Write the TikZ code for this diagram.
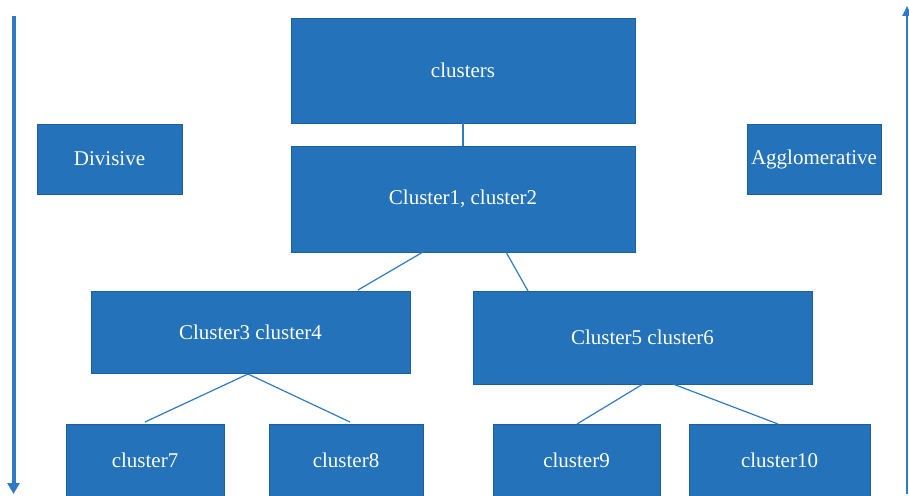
\documentclass[tikz,border=0pt]{standalone}
\usepackage{fontspec}
\setmainfont{Liberation Serif}
\usetikzlibrary{arrows.meta}
\definecolor{boxfill}{HTML}{2372BA}
\definecolor{boxedge}{HTML}{1F5E9C}
\definecolor{linec}{HTML}{2E7BC4}
\tikzset{
  cbox/.style={draw=boxedge, line width=0.8pt, fill=boxfill, text=white, font=\fontsize{21}{24}\selectfont, inner sep=0pt},
  conn/.style={draw=linec, line width=1.2pt},
}
\newcommand{\cbox}[6]{% name, x1,y1,x2,y2,text
  \node[cbox, minimum width={(#4-#2)*1pt}, minimum height={(#5-#3)*1pt}] (#1) at ({(#2+#4)/2},{(#3+#5)/2}) {#6};}
\begin{document}
\begin{tikzpicture}[x=1pt,y=-1pt]
\useasboundingbox (0,0) rectangle (909,495);
\cbox{top}{291}{18}{635}{123}{clusters}
\cbox{c12}{291}{146}{635}{252}{Cluster1, cluster2}
\cbox{div}{37}{124}{182}{194}{Divisive}
\cbox{agg}{747}{124}{881}{194}{Agglomerative}
\cbox{c34}{91}{291}{410}{373}{Cluster3 cluster4}
\cbox{c56}{473}{291}{812}{384}{Cluster5 cluster6}
\cbox{c7}{66}{424}{224}{496}{cluster7}
\cbox{c8}{269}{424}{423}{496}{cluster8}
\cbox{c9}{493}{424}{660}{496}{cluster9}
\cbox{c10}{689}{424}{870}{496}{cluster10}
\coordinate (s1) at (423,252);
\coordinate (s2) at (506,252);
\coordinate (s3) at (248,374);
\coordinate (s4) at (643,384);
\coordinate (s5) at (673,384);
\draw[conn] (top.south) -- (c12.north);
\draw[conn] (s1) -- (358,290) coordinate (e1);
\draw[conn] (s2) -- (528,291) coordinate (e2);
\draw[conn] (s3) -- (145,422) coordinate (e3);
\draw[conn] (s3) -- (350,422) coordinate (e4);
\draw[conn] (s4) -- (577,424) coordinate (e5);
\draw[conn] (s5) -- (778,424) coordinate (e6);
\coordinate (la) at (13.5,16);
\coordinate (lb) at (13.5,494);
\coordinate (ra) at (907,494);
\coordinate (rb) at (907,6);
\draw[draw=linec, line width=4pt, -{Triangle[length=11pt,width=12pt]}] (la) -- (lb);
\draw[draw=linec, line width=2pt, -{Triangle[length=10pt,width=9pt]}] (ra) -- (rb);
\end{tikzpicture}
\end{document}
